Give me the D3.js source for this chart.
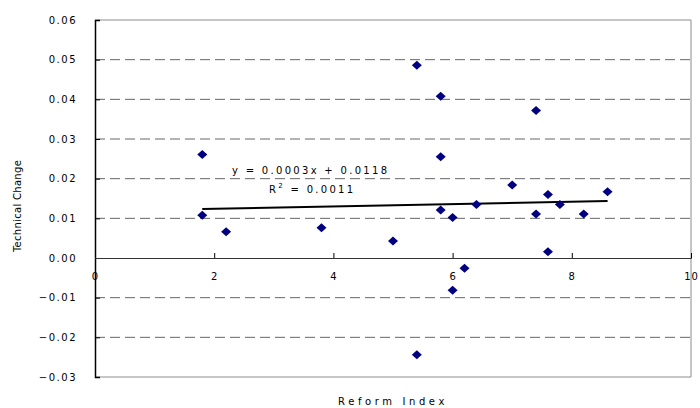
<!DOCTYPE html>
<html>
<head>
<meta charset="utf-8">
<script src="https://cdn.jsdelivr.net/npm/d3@7"></script>
<style>
  body { margin: 0; background: #fff; }
  text { font-family: "DejaVu Sans", Verdana, sans-serif; fill: #000; }
</style>
</head>
<body>
<div class="display"></div>
<script>
// reform index vs technical change
const reformIndex = [1.8, 1.8, 2.2, 3.8, 5.0, 5.4, 5.4, 5.8, 5.8, 5.8, 6.0, 6.0, 6.2, 6.4, 7.0, 7.4, 7.4, 7.6, 7.6, 7.8, 8.2, 8.6];
const techChange = [0.0261, 0.0108, 0.0066, 0.0076, 0.0043, 0.0486, -0.0244, 0.0408, 0.0255, 0.0121, 0.0102, -0.0081, -0.0026, 0.0135, 0.0184, 0.0372, 0.0111, 0.0160, 0.0016, 0.0135, 0.0111, 0.0167];

const xTicks = [0, 2, 4, 6, 8, 10];
const yTicks = [-0.03, -0.02, -0.01, 0.00, 0.01, 0.02, 0.03, 0.04, 0.05, 0.06];

const trendSlope = 0.0003;
const trendIntercept = 0.0118;
const trendLabel = 'y = 0.0003x + 0.0118';
const r2Label = '0.0011';

const config = {
  width: 700,
  height: 408,
  left: 95,
  right: 691,
  top: 20,
  bottom: 377,
  markerColor: '#000080',
  gridColor: '#666666',
  borderColor: '#8c8c8c'
};

const svg = d3.select('.display')
  .append('svg')
  .attr('width', config.width)
  .attr('height', config.height);

const x = d3.scaleLinear().domain([0, 10]).range([config.left, config.right]);
const y = d3.scaleLinear().domain([-0.03, 0.06]).range([config.bottom, config.top]);

// dashed gridlines
svg.append('g')
  .selectAll('line')
  .data(yTicks.filter(d => d !== 0 && d !== -0.03 && d !== 0.06))
  .enter()
  .append('line')
  .attr('x1', config.left)
  .attr('x2', config.right)
  .attr('y1', d => y(d))
  .attr('y2', d => y(d))
  .attr('stroke', config.gridColor)
  .attr('stroke-width', 1)
  .attr('stroke-dasharray', '10,5');

// plot border (top, right, bottom)
svg.append('path')
  .attr('d', `M${config.left},${y(0.06)}H${x(10)}V${y(-0.03)}H${config.left}`)
  .attr('fill', 'none')
  .attr('stroke', config.borderColor)
  .attr('stroke-width', 1);

// y axis
const yAxis = svg.append('g')
  .attr('transform', `translate(${config.left}, 0)`)
  .call(d3.axisLeft(y).tickValues(yTicks).tickSize(-5).tickPadding(18)
    .tickFormat(d => (d < 0 ? '\u22120' : '0') + d3.format('.2f')(Math.abs(d)).slice(1)));
yAxis.select('.domain').attr('stroke', '#000').attr('stroke-width', 1.5);
yAxis.selectAll('.tick line').attr('stroke', '#000');
yAxis.selectAll('text')
  .style('font-size', '10px')
  .style('letter-spacing', '1.5px')
  .attr('fill', '#000');

// x axis along zero
const xAxis = svg.append('g')
  .attr('transform', `translate(0, ${y(0)})`)
  .call(d3.axisBottom(x).tickValues(xTicks).tickSize(-5).tickPadding(15).tickFormat(d3.format('d')));
xAxis.select('.domain').attr('stroke', '#333').attr('stroke-width', 1);
xAxis.selectAll('.tick line').attr('stroke', '#000');
xAxis.selectAll('text')
  .style('font-size', '10px')
  .style('letter-spacing', '1px')
  .attr('fill', '#000');

// trend line
svg.append('line')
  .attr('x1', x(d3.min(reformIndex)))
  .attr('x2', x(d3.max(reformIndex)))
  .attr('y1', y(trendSlope * d3.min(reformIndex) + trendIntercept))
  .attr('y2', y(trendSlope * d3.max(reformIndex) + trendIntercept))
  .attr('stroke', '#000')
  .attr('stroke-width', 2);

// diamond markers
const points = reformIndex.map((d, i) => ({ rx: d, tc: techChange[i] }));
svg.selectAll('.point')
  .data(points)
  .enter()
  .append('path')
  .attr('class', 'point')
  .attr('transform', d => `translate(${x(d.rx)}, ${y(d.tc)})`)
  .attr('d', 'M0,-4.5L5,0L0,4.5L-5,0Z')
  .attr('fill', config.markerColor);

// trend equation
svg.append('text')
  .attr('x', 232)
  .attr('y', 174)
  .style('font-size', '10px')
  .style('letter-spacing', '2.3px')
  .text(trendLabel);

const r2 = svg.append('text')
  .attr('x', 269)
  .attr('y', 193)
  .style('font-size', '10px')
  .style('letter-spacing', '2.3px');
r2.append('tspan').text('R');
r2.append('tspan').attr('dy', -5).style('font-size', '7px').text('2');
r2.append('tspan').attr('dy', 5).text(' = ' + r2Label);

// axis titles
svg.append('text')
  .attr('transform', `translate(21, 206) rotate(-90)`)
  .attr('text-anchor', 'middle')
  .style('font-size', '10px')
  .style('letter-spacing', '0.3px')
  .text('Technical Change');

svg.append('text')
  .attr('x', 393)
  .attr('y', 405)
  .attr('text-anchor', 'middle')
  .style('font-size', '10px')
  .style('letter-spacing', '3.6px')
  .text('Reform Index');
</script>
</body>
</html>
